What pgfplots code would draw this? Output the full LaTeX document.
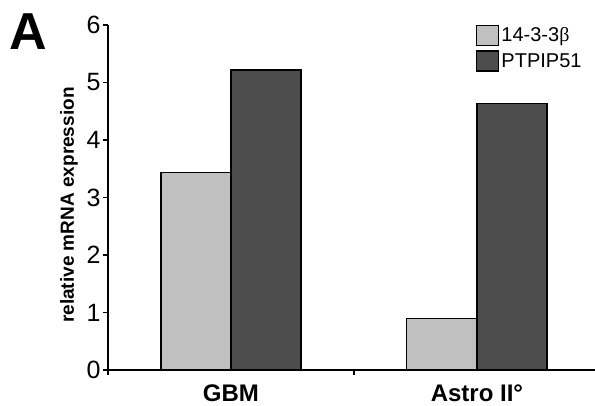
\documentclass[border=0pt]{standalone}
\usepackage{pgfplots}
\pgfplotsset{compat=1.18}
\usepackage{fontspec}
\setmainfont{Liberation Sans}
\newfontfamily\serifb{Liberation Serif}
\definecolor{lightbar}{HTML}{C0C0C0}
\definecolor{darkbar}{HTML}{4D4D4D}
\begin{document}
\begin{tikzpicture}[x=1pt,y=1pt]
\useasboundingbox (0,0) rectangle (595,405);
\begin{axis}[
  at={(108pt,35pt)}, anchor=south west,
  scale only axis, width=487pt, height=345pt,
  xmin=-0.5, xmax=1.48, ymin=0, ymax=6,
  axis x line*=bottom, axis y line*=left,
  axis line style={line width=1.3pt, black},
  ytick={0,1,2,3,4,5,6},
  xtick={-0.5,0.5}, xticklabels={},
  extra x ticks={0,1}, extra x tick labels={GBM,Astro II°},
  extra x tick style={major tick length=0pt, tick label style={font=\bfseries\fontsize{24}{24}\selectfont, yshift=-11pt}},
  tick align=outside, major tick length=5pt,
  tick style={line width=1.3pt, black},
  /pgf/number format/assume math mode=true,
  yticklabel style={font=\fontsize{25}{25}\selectfont, xshift=1pt},
  ylabel={relative mRNA expression},
  ylabel style={font=\bfseries\fontsize{19}{19}\selectfont, at={(axis description cs:-0.080,0.478)}, anchor=center},
  legend style={at={(axis description cs:0.756,1.0)}, anchor=north west, draw=none, fill=none, inner sep=0pt, outer sep=0pt, row sep=4pt, font=\fontsize{20}{20}\selectfont, legend cell align=left, /tikz/every even column/.append style={column sep=2pt}},
  legend image code/.code={\draw[#1, line width=1.3pt] (0pt,-10pt) rectangle (22pt,10pt);},
]
\addplot[ybar, bar width=0.285, bar shift=-0.1425, fill=lightbar, draw=black, line width=1.3pt] coordinates {(0,3.44) (1,0.89)};
\addplot[ybar, bar width=0.285, bar shift=0.1425, fill=darkbar, draw=black, line width=1.3pt] coordinates {(0,5.22) (1,4.63)};
\legend{14-3-3{\serifb β}, PTPIP51}
\end{axis}
\node[anchor=north west, inner sep=0pt, font=\bfseries\fontsize{52}{52}\selectfont] at (9pt,391pt) {A};
\end{tikzpicture}
\end{document}
